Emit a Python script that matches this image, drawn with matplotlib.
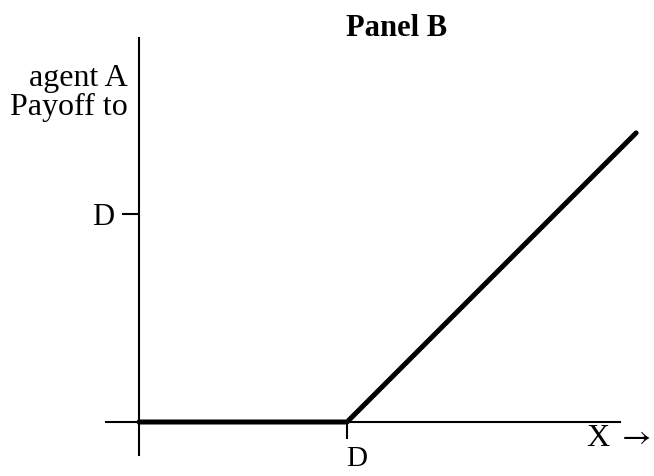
import matplotlib
matplotlib.use("Agg")
import matplotlib.pyplot as plt

plt.rcParams['font.family'] = ['Liberation Serif', 'DejaVu Serif']
plt.rcParams['mathtext.fontset'] = 'stix'

# payoff to agent A: max(X - D, 0), with D = 1
x = [0, 1, 2.39]
payoff = [0, 0, 1.39]
tick_labels = ["D"]

W, H = 654, 476
fig = plt.figure(figsize=(W / 100, H / 100), dpi=100)
ax = fig.add_axes([0, 0, 1, 1])

# pixel scale: origin at (139, 422), 208 px per unit
ox, oy, s = 139, 422, 208
ax.set_xlim(-ox / s, (W - ox) / s)
ax.set_ylim((oy - H) / s, oy / s)

ax.plot(x, payoff, color="black", lw=3.6, solid_capstyle="round", zorder=3)

for side in ["top", "right"]:
    ax.spines[side].set_visible(False)
ax.spines["left"].set_position(("data", 0))
ax.spines["bottom"].set_position(("data", 0))
ax.spines["left"].set_bounds((oy - 455) / s, (oy - 38) / s)
ax.spines["bottom"].set_bounds((106 - ox) / s, (620 - ox) / s)
for side in ["left", "bottom"]:
    ax.spines[side].set_linewidth(1.5)

ax.set_xticks([1])
ax.set_xticklabels([""])
ax.set_yticks([1])
ax.set_yticklabels(tick_labels)
ax.tick_params(axis="x", direction="out", length=12, width=1.5)
ax.tick_params(axis="y", direction="out", length=12, width=1.5, pad=6, labelsize=22)
ax.annotate(tick_labels[0], xy=(1, 0), xytext=(7, -27), textcoords="offset points",
            ha="center", va="center", fontsize=21)

fig.text(397 / W, 1 - 28 / H, "Panel B", ha="center", va="center",
         fontsize=22, fontweight="bold")
fig.text(128 / W, 1 - 93 / H, "agent A\nPayoff to", ha="right", va="center",
         fontsize=23, linespacing=1.0)
fig.text(651 / W, 1 - 439 / H, r"X $\rightarrow$", ha="right", va="center", fontsize=23)

fig.savefig("out.png", dpi=100)
